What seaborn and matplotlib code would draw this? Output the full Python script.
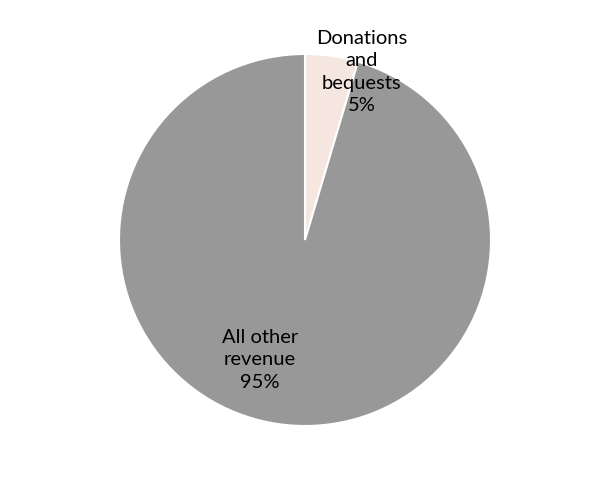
import matplotlib
matplotlib.use("Agg")
import matplotlib.pyplot as plt
import seaborn as sns

categories = ["Donations\nand\nbequests", "All other\nrevenue"]
values = [4.6, 95.4]
colors = ["#F5E6E0", "#989898"]

sns.set_theme(style="white")
plt.rcParams['font.family'] = ['Lato', 'DejaVu Sans']

W, H = 610, 479
fig = plt.figure(figsize=(W / 100, H / 100), dpi=100)
cx, cy, r = 305, 240, 186
ax = fig.add_axes([(cx - r) / W, (H - cy - r) / H, 2 * r / W, 2 * r / H])

wedges, _ = ax.pie(values, colors=colors, startangle=90, counterclock=False,
                   radius=1, wedgeprops=dict(edgecolor="white", linewidth=1.5))
ax.set_xlim(-1, 1)
ax.set_ylim(-1, 1)
ax.set_aspect("auto")
ax.axis("off")

label_pos = [(0.306, 0.903), (-0.242, -0.645)]
total = sum(values)
for cat, v, (x, y) in zip(categories, values, label_pos):
    ax.text(x, y, f"{cat}\n{round(v / total * 100)}%", ha="center", va="center",
            fontsize=14.5, color="black", linespacing=1.38)

fig.savefig("out.png", dpi=100)
